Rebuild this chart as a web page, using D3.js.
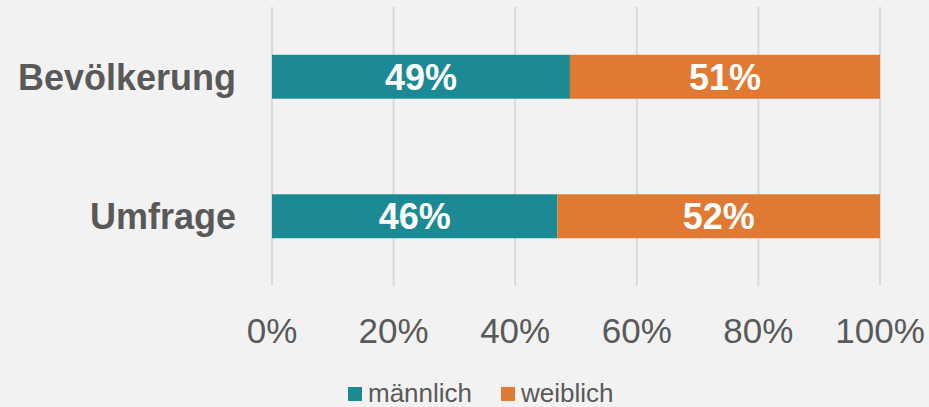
<!DOCTYPE html>
<html>
<head>
<meta charset="utf-8">
<script src="https://cdn.jsdelivr.net/npm/d3@7"></script>
<style>
  body { margin: 0; background: #f2f2f2; }
  svg { display: block; font-family: "Liberation Sans", Arial, sans-serif; }
</style>
</head>
<body>
<div id="chart"></div>
<script>
var categories = ["Bevölkerung", "Umfrage"];
var maennlich = [49, 46];
var weiblich = [51, 52];
var seriesNames = ["männlich", "weiblich"];
var ticks = [0, 0.2, 0.4, 0.6, 0.8, 1];

var w = 929, h = 407;
var colors = ["#1b8a94", "#e07a33"];

var data = categories.map(function(c, i) {
    return { cat: c, "männlich": maennlich[i], "weiblich": weiblich[i] };
});

var stacked = d3.stack()
    .keys(seriesNames)
    .offset(d3.stackOffsetExpand)(data);

var svg = d3.select("#chart").append("svg")
    .attr("width", w)
    .attr("height", h);

svg.append("rect").attr("width", w).attr("height", h).attr("fill", "#f2f2f2");

var x = d3.scaleLinear().domain([0, 1]).range([272, 880]);
var y = d3.scaleBand().domain(categories).range([7, 286])
    .paddingInner(0.685)
    .paddingOuter(0.3425);

// gridlines
svg.append("g")
    .selectAll("line")
    .data(ticks)
    .enter().append("line")
    .attr("x1", function(d) { return x(d); })
    .attr("x2", function(d) { return x(d); })
    .attr("y1", 7)
    .attr("y2", 286)
    .attr("stroke", "#d9d9d9")
    .attr("stroke-width", 2);

// tick labels
svg.append("g")
    .selectAll("text")
    .data(ticks)
    .enter().append("text")
    .attr("x", function(d) { return x(d); })
    .attr("y", 343)
    .attr("text-anchor", "middle")
    .attr("fill", "#595959")
    .style("font-size", "35px")
    .text(d3.format(".0%"));

// bars
var groups = svg.selectAll("g.series")
    .data(stacked)
    .enter().append("g")
    .attr("class", "series")
    .attr("fill", function(d, i) { return colors[i]; });

groups.selectAll("rect")
    .data(function(d) { return d; })
    .enter().append("rect")
    .attr("x", function(d) { return x(d[0]); })
    .attr("width", function(d) { return x(d[1]) - x(d[0]); })
    .attr("y", function(d) { return y(d.data.cat); })
    .attr("height", y.bandwidth());

// value labels
groups.each(function(s) {
    d3.select(this).selectAll("text")
        .data(s)
        .enter().append("text")
        .attr("x", function(d) { return (x(d[0]) + x(d[1])) / 2; })
        .attr("y", function(d) { return y(d.data.cat) + y.bandwidth() / 2 + 13; })
        .attr("text-anchor", "middle")
        .attr("fill", "#ffffff")
        .style("font-size", "36px")
        .style("font-weight", "bold")
        .text(function(d) { return d.data[s.key] + "%"; });
});

// category labels
svg.append("g")
    .selectAll("text")
    .data(categories)
    .enter().append("text")
    .attr("x", 236)
    .attr("y", function(d) { return y(d) + y.bandwidth() / 2 + 13; })
    .attr("text-anchor", "end")
    .attr("fill", "#595959")
    .style("font-size", "36px")
    .style("font-weight", "bold")
    .text(function(d) { return d; });

// legend
var legX = [348, 501];
var leg = svg.append("g")
    .selectAll("g")
    .data(seriesNames)
    .enter().append("g")
    .attr("transform", function(d, i) { return "translate(" + legX[i] + ",387)"; });

leg.append("rect")
    .attr("width", 14)
    .attr("height", 14)
    .attr("fill", function(d, i) { return colors[i]; });

leg.append("text")
    .attr("x", 20)
    .attr("y", 15)
    .attr("fill", "#595959")
    .style("font-size", "26px")
    .text(function(d) { return d; });
</script>
</body>
</html>
